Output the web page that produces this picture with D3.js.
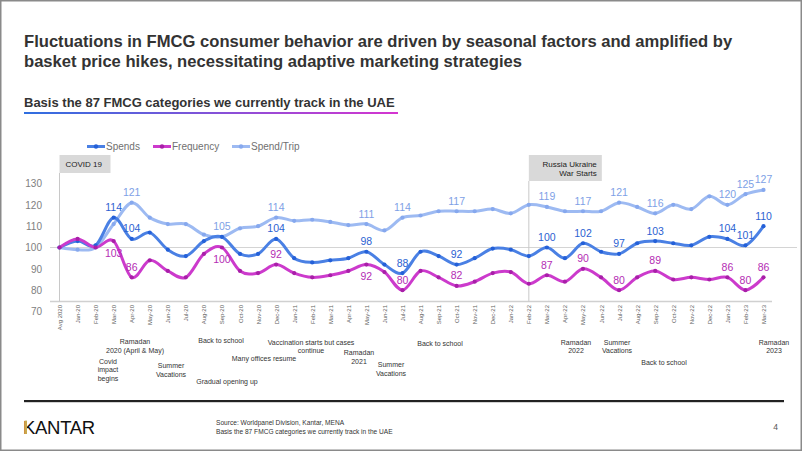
<!DOCTYPE html>
<html>
<head>
<meta charset="utf-8">
<script src="https://cdn.jsdelivr.net/npm/d3@7"></script>
<style>
  html, body { margin: 0; padding: 0; background: #fff; }
  svg { display: block; font-family: "Liberation Sans", Arial, sans-serif; }
</style>
</head>
<body>
<svg id="chart" width="802" height="451"></svg>
<script>
// ---------------- DATA ----------------
const categories = ["Avg 2020","Jan-20","Feb-20","Mar-20","Apr-20","May-20","Jun-20","Jul-20","Aug-20","Sep-20","Oct-20","Nov-20","Dec-20",
  "Jan-21","Feb-21","Mar-21","Apr-21","May-21","Jun-21","Jul-21","Aug-21","Sep-21","Oct-21","Nov-21","Dec-21",
  "Jan-22","Feb-22","Mar-22","Apr-22","May-22","Jun-22","Jul-22","Aug-22","Sep-22","Oct-22","Nov-22","Dec-22",
  "Jan-23","Feb-23","Mar-23"];

const spends = [100,103,101,114,104,107,99,96,103,105,97,97,104,
  95,93,94,95,98,92,88,98,96,92,95,99.5,
  99,96,100,95,102,98,97,102,103,102,101,105,
  104,101,110];

const frequency = [100,104,100,103,86,94,89,86,97,100,89,88,92,
  88,86,87,89,92,88.5,80,89,86,82,84,88,
  88.5,83,87,84,90,86,80,86,89,85,86,85,
  86,80,86];

const spendTrip = [100,99,100,111,121,114,111,111,106,105,109,110,114,
  112.5,113,112,110.5,111,108,114,115,117,117,117,118,
  116,120,119,117,117,117,121,119,116,120,118,124,
  120,125,127];

const yTicks = [70,80,90,100,110,120,130];

// categories whose values are written on the chart
const spendTripLabelled = ["Apr-20","Sep-20","Dec-20","May-21","Jul-21","Oct-21","Mar-22","May-22","Jul-22","Sep-22","Jan-23","Feb-23","Mar-23"];
const spendsLabelled    = ["Mar-20","Apr-20","Dec-20","May-21","Jul-21","Oct-21","Mar-22","May-22","Jul-22","Sep-22","Jan-23","Feb-23","Mar-23"];
const frequencyLabelled = ["Mar-20","Apr-20","Sep-20","Dec-20","May-21","Jul-21","Oct-21","Mar-22","May-22","Jul-22","Sep-22","Jan-23","Feb-23","Mar-23"];
const frequencyLabelBelow = ["Mar-20","Sep-20","May-21"];

const seriesNames = ["Spends","Frequency","Spend/Trip"];

const titleLines = ["Fluctuations in FMCG consumer behavior are driven by seasonal factors and amplified by",
                    "basket price hikes, necessitating adaptive marketing strategies"];
const subtitle = "Basis the 87 FMCG categories we currently track in the UAE";
const sourceLines = ["Source: Worldpanel Division, Kantar, MENA",
                     "Basis the 87 FMCG categories we currently track in the UAE"];

const events = [
  ["Ramadan","2020 (April & May)"],
  ["Covid","impact","begins"],
  ["Summer","Vacations"],
  ["Back to school"],
  ["Gradual opening up"],
  ["Many offices resume"],
  ["Vaccination starts but cases","continue"],
  ["Ramadan","2021"],
  ["Summer","Vacations"],
  ["Back to school"],
  ["Ramadan","2022"],
  ["Summer","Vacations"],
  ["Back to school"],
  ["Ramadan","2023"]
];

// ---------------- LAYOUT ----------------
const svg = d3.select("#chart");
const W = 802, H = 451;

const colors = {
  "Spends":     {line:"#4A80E4", dot:"#2460D8", label:"#2B62D2"},
  "Frequency":  {line:"#CC3ACC", dot:"#A81FA8", label:"#B42DB4"},
  "Spend/Trip": {line:"#9DBAF2", dot:"#86A8EE", label:"#7E9FE6"}
};

const x = d3.scalePoint().domain(categories).range([59.5, 763.5]);
const y = d3.scaleLinear().domain([70,130]).range([311.5, 183.5]);

// frame
svg.append("rect").attr("x",0.75).attr("y",0.75).attr("width",W-1.5).attr("height",H-1.5)
  .attr("fill","#fff").attr("stroke","#8a8a8a").attr("stroke-width",1.5);

// title
svg.append("g").selectAll("text").data(titleLines).join("text")
  .attr("x",24).attr("y",(d,i)=>47+i*20)
  .attr("font-size",16.6).attr("font-weight","bold").attr("fill","#333")
  .text(d=>d);

// subtitle + gradient underline
svg.append("text").attr("x",24).attr("y",107).attr("font-size",13).attr("font-weight","bold")
  .attr("fill","#333").text(subtitle);
const defs = svg.append("defs");
const grad = defs.append("linearGradient").attr("id","ul").attr("x1","0%").attr("x2","100%");
grad.append("stop").attr("offset","0%").attr("stop-color","#2F6FE0");
grad.append("stop").attr("offset","100%").attr("stop-color","#D535D0");
svg.append("rect").attr("x",24).attr("y",112).attr("width",374).attr("height",2).attr("fill","url(#ul)");

// legend
const legendX = {"Spends":87, "Frequency":153, "Spend/Trip":232};
const lg = svg.append("g");
seriesNames.forEach(n=>{
  const lx = legendX[n];
  lg.append("line").attr("x1",lx).attr("x2",lx+18).attr("y1",146.5).attr("y2",146.5)
    .attr("stroke",colors[n].line).attr("stroke-width",3);
  lg.append("circle").attr("cx",lx+9).attr("cy",146.5).attr("r",2.2).attr("fill",colors[n].dot);
  lg.append("text").attr("x",lx+19).attr("y",150).attr("font-size",10).attr("fill","#707070").text(n);
});

// gridline at 100 and axes lines
svg.append("line").attr("x1",50).attr("x2",797).attr("y1",y(100)).attr("y2",y(100))
  .attr("stroke","#d4d4d4").attr("stroke-width",1);
svg.append("line").attr("x1",50).attr("x2",772).attr("y1",301.5).attr("y2",301.5)
  .attr("stroke","#d0d0d0").attr("stroke-width",1.5);
svg.append("line").attr("x1",x("Avg 2020")).attr("x2",x("Avg 2020")).attr("y1",173).attr("y2",301.5)
  .attr("stroke","#c8c8c8").attr("stroke-width",1);
svg.append("line").attr("x1",x("Feb-22")).attr("x2",x("Feb-22")).attr("y1",181).attr("y2",301.5)
  .attr("stroke","#c8c8c8").attr("stroke-width",1);

// event boxes
svg.append("rect").attr("x",x("Avg 2020")).attr("y",155).attr("width",51).attr("height",18).attr("fill","#d9d9d9");
svg.append("text").attr("x",x("Avg 2020")+6).attr("y",166.5).attr("font-size",8).attr("fill","#222").text("COVID 19");
svg.append("rect").attr("x",x("Feb-22")).attr("y",155).attr("width",73).attr("height",26).attr("fill","#d9d9d9");
svg.append("text").attr("x",x("Feb-22")+68).attr("y",166.5).attr("text-anchor","end").attr("font-size",8).attr("fill","#222").text("Russia Ukraine");
svg.append("text").attr("x",x("Feb-22")+68).attr("y",176).attr("text-anchor","end").attr("font-size",8).attr("fill","#222").text("War Starts");

// y axis labels
const yAxis = d3.axisLeft(y).tickValues(yTicks).tickSize(0).tickPadding(0);
const yg = svg.append("g").attr("transform","translate(42,0)").call(yAxis);
yg.select(".domain").remove();
yg.selectAll("text").attr("font-size",10).attr("fill","#808080").attr("font-family","Liberation Sans, Arial, sans-serif");

// x axis labels (rotated)
const xAxis = d3.axisBottom(x).tickSize(0).tickPadding(0);
const xg = svg.append("g").attr("transform","translate(0,305)").call(xAxis);
xg.select(".domain").remove();
xg.selectAll("text")
  .attr("font-size",6).attr("fill","#606060").attr("font-family","Liberation Sans, Arial, sans-serif")
  .attr("text-anchor","end").attr("dy",0).attr("y",0)
  .attr("transform","rotate(-90) translate(0,2)");

// lines
const series = {"Spend/Trip":spendTrip, "Spends":spends, "Frequency":frequency};
const lineGen = d3.line().x((d,i)=>x(categories[i])).y(d=>y(d)).curve(d3.curveCardinal.tension(0));
["Spend/Trip","Spends","Frequency"].forEach(n=>{
  const g = svg.append("g");
  g.append("path").datum(series[n]).attr("d",lineGen).attr("fill","none")
    .attr("stroke",colors[n].line).attr("stroke-width",3).attr("stroke-linejoin","round");
  g.selectAll("circle").data(series[n]).join("circle")
    .attr("cx",(d,i)=>x(categories[i])).attr("cy",d=>y(d)).attr("r",2.1).attr("fill",colors[n].dot);
});

// data labels
function addLabels(name, vals, labelled, below){
  svg.append("g").selectAll("text").data(labelled).join("text")
    .attr("x",c=>x(c))
    .attr("y",c=>{const v=vals[categories.indexOf(c)]; return below.includes(c)? y(v)+15.5 : y(v)-6.5;})
    .attr("text-anchor","middle").attr("font-size",10.5).attr("fill",colors[name].label)
    .text(c=>Math.round(vals[categories.indexOf(c)]));
}
addLabels("Spend/Trip", spendTrip, spendTripLabelled, []);
addLabels("Spends", spends, spendsLabelled, []);
addLabels("Frequency", frequency, frequencyLabelled, frequencyLabelBelow);

// event annotations under the axis
const eventPos = [[135,344],[108,363.5],[171,368],[221,343],[227,383.5],[264,361],[311,344.5],[359,355],[391,367],[440,346],[576,344.5],[617,344.5],[664,365],[774,344.5]];
const eg = svg.append("g");
events.forEach((lines,i)=>{
  const [ex,ey] = eventPos[i];
  eg.append("g").selectAll("text").data(lines).join("text")
    .attr("x",ex).attr("y",(d,j)=>ey+j*8.5).attr("text-anchor","middle")
    .attr("font-size",7).attr("fill","#333").text(d=>d);
});

// footer
svg.append("rect").attr("x",24).attr("y",400).attr("width",760).attr("height",2.2).attr("fill","#222");
svg.append("text").attr("x",23).attr("y",434).attr("font-size",18.5).attr("fill","#111").attr("letter-spacing",-0.3).text("KANTAR");
svg.append("rect").attr("x",24.6).attr("y",420.6).attr("width",2.4).attr("height",13.4).attr("fill","#C9A84C");
svg.append("g").selectAll("text").data(sourceLines).join("text")
  .attr("x",216).attr("y",(d,i)=>425+i*8.5).attr("font-size",6.6).attr("fill","#333").text(d=>d);
svg.append("text").attr("x",778).attr("y",430).attr("text-anchor","end").attr("font-size",8.5).attr("fill","#555").text("4");
</script>
</body>
</html>
